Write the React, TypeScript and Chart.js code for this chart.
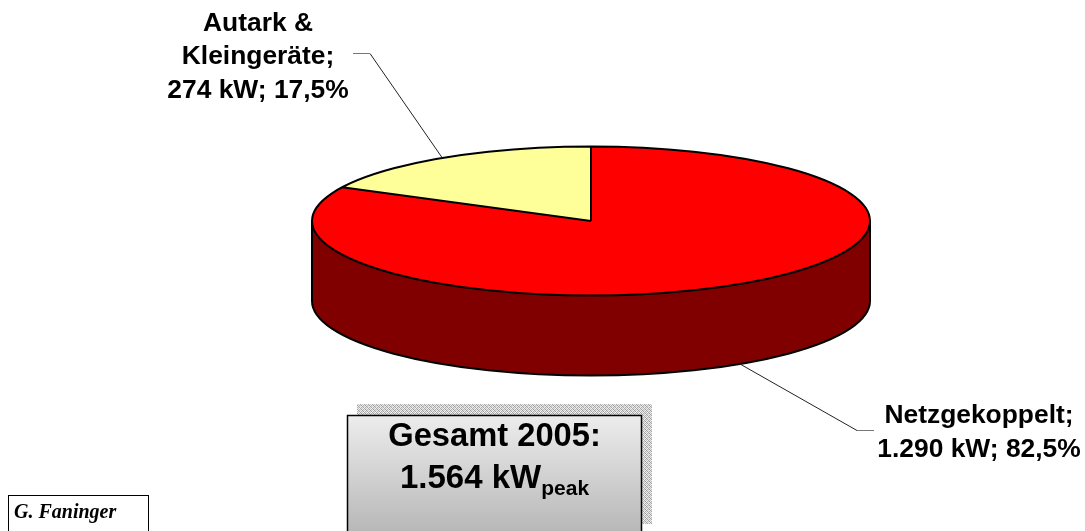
import React, { useEffect, useRef } from "react";
import { Chart, registerables } from "chart.js";

Chart.register(...registerables);

const categories = ["Netzgekoppelt", "Autark & Kleingeräte"];
const valuesKW = [1290, 274];
const topColors = ["#FF0000", "#FFFF99"];
const wallColors = ["#800000", "#808040"];
const netzLabel = ["Netzgekoppelt;", "1.290 kW; 82,5%"];
const autarkLabel = ["Autark &", "Kleingeräte;", "274 kW; 17,5%"];
const totalTitle = "Gesamt 2005:";
const totalValue = "1.564 kW";
const totalUnit = "peak";
const author = "G. Faninger";

const RADIUS = 279;
const SQUASH = 74.5 / 279;
const DEPTH = 80;
const BOLD = '"Liberation Sans", Arial, sans-serif';

function stipple(ctx: CanvasRenderingContext2D) {
  const tile = document.createElement("canvas");
  tile.width = 4;
  tile.height = 4;
  const t = tile.getContext("2d")!;
  const shades = ["#a8a8a8", "#e8e8e8", "#c4c4c4", "#f4f4f4", "#e0e0e0", "#989898", "#f0f0f0", "#b8b8b8", "#d0d0d0", "#f2f2f2", "#a0a0a0", "#dcdcdc", "#eeeeee", "#b0b0b0", "#e4e4e4", "#a8a8a8"];
  shades.forEach((c, i) => {
    t.fillStyle = c;
    t.fillRect(i % 4, Math.floor(i / 4), 1, 1);
  });
  return ctx.createPattern(tile, "repeat")!;
}

const pie3d = {
  id: "pie3d",
  beforeDatasetsDraw(chart: any) {
    const ctx: CanvasRenderingContext2D = chart.ctx;
    const arcs = chart.getDatasetMeta(0).data;
    const { x, y, outerRadius: r } = arcs[0];
    const ry = r * SQUASH;
    arcs.forEach((arc: any, i: number) => {
      const a0 = Math.max(arc.startAngle, 0);
      const a1 = Math.min(arc.endAngle, Math.PI);
      if (a1 <= a0) return;
      ctx.beginPath();
      ctx.ellipse(x, y, r, ry, 0, a0, a1);
      ctx.ellipse(x, y + DEPTH, r, ry, 0, a1, a0, true);
      ctx.closePath();
      ctx.fillStyle = wallColors[i];
      ctx.fill();
    });
    ctx.beginPath();
    ctx.ellipse(x, y + DEPTH, r, ry, 0, 0, Math.PI);
    ctx.moveTo(x - r, y);
    ctx.lineTo(x - r, y + DEPTH);
    ctx.moveTo(x + r, y);
    ctx.lineTo(x + r, y + DEPTH);
    ctx.strokeStyle = "#000";
    ctx.lineWidth = 2;
    ctx.stroke();
    ctx.save();
    ctx.translate(x, y);
    ctx.scale(1, SQUASH);
    ctx.translate(-x, -y);
  },
  afterDatasetsDraw(chart: any) {
    const ctx: CanvasRenderingContext2D = chart.ctx;
    ctx.restore();
    const arcs = chart.getDatasetMeta(0).data;
    const { x, y, outerRadius: r } = arcs[0];
    const ry = r * SQUASH;
    ctx.beginPath();
    arcs.forEach((arc: any) => {
      ctx.moveTo(x, y);
      ctx.lineTo(x + r * Math.cos(arc.startAngle), y + ry * Math.sin(arc.startAngle));
    });
    ctx.moveTo(x + r, y);
    ctx.ellipse(x, y, r, ry, 0, 0, Math.PI * 2);
    ctx.strokeStyle = "#000";
    ctx.lineWidth = 2;
    ctx.stroke();
  },
  afterDraw(chart: any) {
    const ctx: CanvasRenderingContext2D = chart.ctx;
    ctx.save();

    // leader lines
    ctx.lineWidth = 1;
    ctx.strokeStyle = "#222";
    ctx.beginPath();
    ctx.moveTo(442, 157.5);
    ctx.lineTo(370, 53.5);
    ctx.stroke();
    ctx.beginPath();
    ctx.moveTo(740, 364);
    ctx.lineTo(857, 430.5);
    ctx.stroke();
    ctx.strokeStyle = "#777";
    ctx.beginPath();
    ctx.moveTo(353, 53.5);
    ctx.lineTo(370, 53.5);
    ctx.moveTo(857, 430.5);
    ctx.lineTo(874, 430.5);
    ctx.stroke();

    // data labels
    ctx.fillStyle = "#000";
    ctx.textAlign = "center";
    ctx.textBaseline = "alphabetic";
    ctx.font = `bold 26.4px ${BOLD}`;
    autarkLabel.forEach((s, i) => ctx.fillText(s, 258, 30.5 + i * 33.5));
    netzLabel.forEach((s, i) => ctx.fillText(s, 979, 423 + i * 33.5));

    // total box
    ctx.fillStyle = stipple(ctx);
    ctx.fillRect(357, 404, 295, 120);
    const g = ctx.createLinearGradient(0, 415, 0, 531);
    g.addColorStop(0, "#ededed");
    g.addColorStop(1, "#b8b8b8");
    ctx.fillStyle = g;
    ctx.fillRect(347.5, 415.5, 294, 120);
    ctx.strokeStyle = "#000";
    ctx.lineWidth = 1.5;
    ctx.strokeRect(347.5, 415.5, 294, 120);

    ctx.fillStyle = "#000";
    ctx.textAlign = "center";
    ctx.font = `bold 32.7px ${BOLD}`;
    ctx.fillText(totalTitle, 494.5, 446);
    ctx.textAlign = "left";
    ctx.font = `bold 33px ${BOLD}`;
    ctx.fillText(totalValue, 400, 487.5);
    const w = ctx.measureText(totalValue).width;
    ctx.font = `bold 21px ${BOLD}`;
    ctx.fillText(totalUnit, 400 + w, 495);

    // author box
    ctx.strokeStyle = "#000";
    ctx.lineWidth = 1;
    ctx.strokeRect(8.5, 495.5, 140, 50);
    ctx.font = 'italic bold 20px "Liberation Serif", serif';
    ctx.fillText(author, 14, 518);
    ctx.restore();
  },
};

export default function App() {
  const ref = useRef<HTMLCanvasElement>(null);
  useEffect(() => {
    const chart = new Chart(ref.current!, {
      type: "pie",
      data: {
        labels: categories,
        datasets: [
          {
            data: valuesKW,
            backgroundColor: topColors,
            borderWidth: 0,
            clip: false,
          } as any,
        ],
      },
      options: {
        animation: false,
        responsive: false,
        radius: RADIUS,
        layout: { padding: { left: 97, bottom: 89 } },
        plugins: { legend: { display: false }, tooltip: { enabled: false } },
      } as any,
      plugins: [pie3d],
    });
    return () => chart.destroy();
  }, []);
  return (
    <canvas
      ref={ref}
      width={1085}
      height={531}
      style={{ position: "fixed", left: 0, top: 0, width: 1085, height: 531, display: "block" }}
    />
  );
}
